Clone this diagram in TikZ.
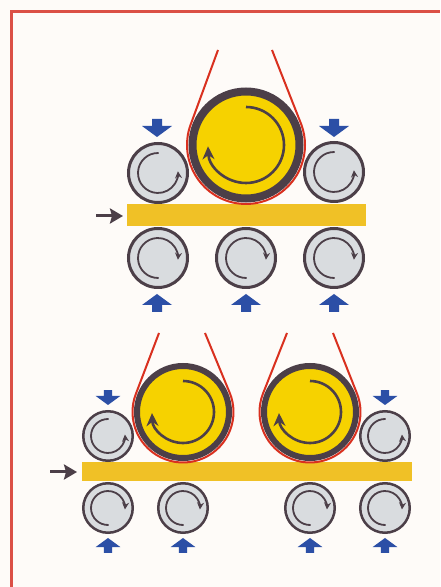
\documentclass[tikz,border=0pt]{standalone}
\usetikzlibrary{
    arrows.meta,
}

\definecolor{paperwhite}{HTML}{FEFBF8}
\definecolor{framered}{HTML}{DB5046}
\definecolor{beltred}{HTML}{D9301F}
\definecolor{rolldark}{HTML}{4C3F48}
\definecolor{rollgrey}{HTML}{D9DCDF}
\definecolor{rollyellow}{HTML}{F6D200}
\definecolor{stripyellow}{HTML}{F0C126}
\definecolor{pushblue}{HTML}{2C4FA6}

\tikzset{
    every node/.style={inner sep=0pt, outer sep=0pt},
    bigroll/.style={circle, draw=rolldark, fill=rollyellow, line width=8pt, minimum size=107pt},
    bigrollb/.style={circle, draw=rolldark, fill=rollyellow, line width=6pt, minimum size=92pt},
    smallroll/.style={circle, draw=rolldark, fill=rollgrey, line width=3pt, minimum size=59pt},
    smallrollb/.style={circle, draw=rolldark, fill=rollgrey, line width=2.5pt, minimum size=49.5pt},
    strip/.style={rectangle, fill=stripyellow},
    belt/.style={draw=beltred, line width=2pt},
    spin/.style={draw=rolldark, line width=1.8pt, -{Stealth[length=7pt, width=7pt]}},
    bigspin/.style={draw=rolldark, line width=2.6pt, -{Stealth[length=13pt, width=12pt]}},
    feed/.style={draw=rolldark, line width=3pt, -{Stealth[length=13pt, width=15pt, inset=2pt]}},
    pushtip/.pic={
        \fill[pushblue] (0,0) -- (15,-11) -- (5,-11) -- (5,-18) -- (-5,-18)
            -- (-5,-11) -- (-15,-11) -- cycle;
    },
}

\begin{document}
\begin{tikzpicture}[x=1pt, y=1pt]

\useasboundingbox (0,0) rectangle (440,587);
\fill[paperwhite] (0,0) rectangle (440,587);

% Frame: only the left and top sides
\draw[framered, line width=2.6pt] (11.5,0) -- (11.5,575.5) -- (440,575.5);

% =============================================================================
% Upper stand: one large roll
% =============================================================================
\node[strip, minimum width=239pt, minimum height=22pt] (stripA) at (246.5,372) {};

% Belt around the large roll
\coordinate (beltAl) at (218,537);
\coordinate (beltAr) at (272,537);
\node[bigroll] (bigA) at (246,442) {};
\draw[belt] (beltAl) -- ([shift={(159.8:59pt)}]bigA.center)
    arc[start angle=159.8, end angle=380.2, radius=59pt] -- (beltAr);
\draw[bigspin] ([shift={(90:38pt)}]bigA.center)
    arc[start angle=90, end angle=-178, radius=38pt];

% Upper rolls
\node[smallroll] (rollAa) at (158,414) {};
\node[smallroll] (rollAb) at (334,415) {};
\draw[spin] ([shift={(88:20pt)}]rollAa.center) arc[start angle=88, end angle=365, radius=20pt];
\draw[spin] ([shift={(88:20pt)}]rollAb.center) arc[start angle=88, end angle=365, radius=20pt];

% Lower rolls
\node[smallroll] (rollAc) at (158,329) {};
\node[smallroll] (rollAd) at (246,329) {};
\node[smallroll] (rollAe) at (334,329) {};
\draw[spin] ([shift={(272:20pt)}]rollAc.center) arc[start angle=272, end angle=-5, radius=20pt];
\draw[spin] ([shift={(272:20pt)}]rollAd.center) arc[start angle=272, end angle=-5, radius=20pt];
\draw[spin] ([shift={(272:20pt)}]rollAe.center) arc[start angle=272, end angle=-5, radius=20pt];

% Pressure and feed arrows
\pic[rotate=180] at (157,450) {pushtip};
\pic[rotate=180] at (334,450) {pushtip};
\pic at (157,293) {pushtip};
\pic at (246,293) {pushtip};
\pic at (334,293) {pushtip};
\coordinate (feedA) at (96,371);
\draw[feed] (feedA) -- ([xshift=-4pt]stripA.west |- feedA);

% =============================================================================
% Lower stand: two large rolls
% =============================================================================
\node[strip, minimum width=330pt, minimum height=19pt] (stripB) at (247,115.5) {};

% Belts around the large rolls
\coordinate (beltBl) at (159,254);
\coordinate (beltBr) at (205,254);
\coordinate (beltCl) at (287,254);
\coordinate (beltCr) at (333,254);
\node[bigrollb] (bigB) at (183,175) {};
\node[bigrollb] (bigC) at (310,175) {};
\draw[belt] (beltBl) -- ([shift={(159.2:50.5pt)}]bigB.center)
    arc[start angle=159.2, end angle=382.4, radius=50.5pt] -- (beltBr);
\draw[belt] (beltCl) -- ([shift={(159.2:50.5pt)}]bigC.center)
    arc[start angle=159.2, end angle=382.4, radius=50.5pt] -- (beltCr);
\draw[bigspin] ([shift={(90:31pt)}]bigB.center) arc[start angle=90, end angle=-178, radius=31pt];
\draw[bigspin] ([shift={(90:31pt)}]bigC.center) arc[start angle=90, end angle=-178, radius=31pt];

% Upper rolls
\node[smallrollb] (rollBa) at (108,151) {};
\node[smallrollb] (rollBb) at (385,151) {};
\draw[spin] ([shift={(88:17pt)}]rollBa.center) arc[start angle=88, end angle=365, radius=17pt];
\draw[spin] ([shift={(88:17pt)}]rollBb.center) arc[start angle=88, end angle=365, radius=17pt];

% Lower rolls
\node[smallrollb] (rollBc) at (108,79) {};
\node[smallrollb] (rollBd) at (183,79) {};
\node[smallrollb] (rollBe) at (310,79) {};
\node[smallrollb] (rollBf) at (385,79) {};
\draw[spin] ([shift={(272:17pt)}]rollBc.center) arc[start angle=272, end angle=-5, radius=17pt];
\draw[spin] ([shift={(272:17pt)}]rollBd.center) arc[start angle=272, end angle=-5, radius=17pt];
\draw[spin] ([shift={(272:17pt)}]rollBe.center) arc[start angle=272, end angle=-5, radius=17pt];
\draw[spin] ([shift={(272:17pt)}]rollBf.center) arc[start angle=272, end angle=-5, radius=17pt];

% Pressure and feed arrows
\pic[rotate=180, scale=.83] at (108,182) {pushtip};
\pic[rotate=180, scale=.83] at (385,182) {pushtip};
\pic[scale=.83] at (108,49) {pushtip};
\pic[scale=.83] at (183,49) {pushtip};
\pic[scale=.83] at (310,49) {pushtip};
\pic[scale=.83] at (385,49) {pushtip};
\coordinate (feedB) at (50,115);
\draw[feed] (feedB) -- ([xshift=-5pt]stripB.west |- feedB);

\end{tikzpicture}
\end{document}
